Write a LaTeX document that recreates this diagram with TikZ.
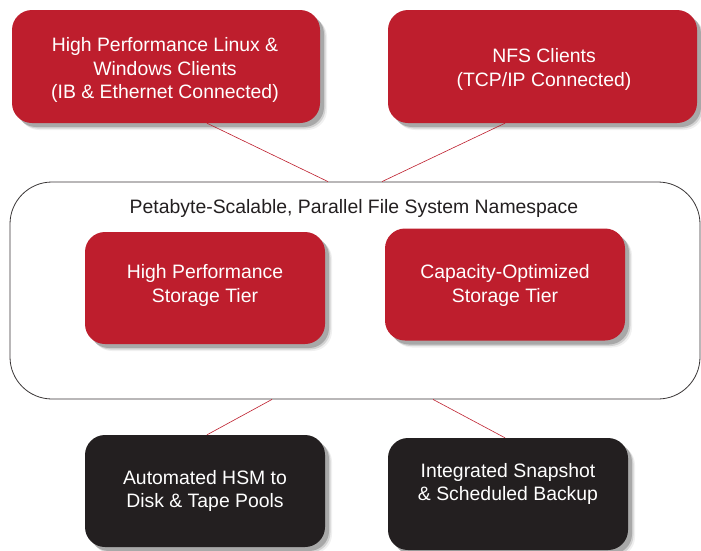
\documentclass[tikz,border=0pt]{standalone}
\usepackage{fontspec}
\setmainfont{Liberation Sans}
\usetikzlibrary{shadows}
\definecolor{dred}{HTML}{BE1E2D}
\definecolor{dblk}{HTML}{231F20}
\begin{document}
\begin{tikzpicture}[x=1pt,y=-1pt,
  box/.style={rounded corners=20pt, minimum width=240pt, minimum height=112pt, inner sep=0pt,
    general shadow={shadow xshift=7pt, shadow yshift=-7pt, fill=black, opacity=0.06},
    general shadow={shadow xshift=5.5pt, shadow yshift=-5.5pt, fill=black, opacity=0.12},
    general shadow={shadow xshift=4pt, shadow yshift=-4pt, fill=black, opacity=0.2}},
  redbox/.style={box, fill=dred},
  blkbox/.style={box, fill=dblk},
  lbl/.style={text=white, font=\fontsize{19.4}{23.5}\selectfont, align=center},
  link/.style={draw=dred, line width=0.6pt}]
\useasboundingbox[fill=white] (0,0) rectangle (701,550);

% namespace container
\node[draw=dblk!90, line width=0.8pt, rounded corners=42pt, minimum width=690pt, minimum height=217pt, inner sep=0pt] (ns) at (355,290.5) {};
\node[text=dblk, font=\fontsize{19.4}{23.5}\selectfont] (nst) at (354,208) {Petabyte-Scalable, Parallel File System Namespace};

% top clients
\node[redbox, minimum width=308pt, minimum height=113pt] (tl) at (166,66.5) {};
\node[lbl] (tlt) at (165,70) {High Performance Linux \&\\Windows Clients\\(IB \& Ethernet Connected)};
\node[redbox, minimum width=309pt, minimum height=113pt] (tr) at (542.5,66.5) {};
\node[lbl] (trt) at (544,69.5) {NFS Clients\\(TCP/IP Connected)};

% storage tiers
\node[redbox] (il) at (205,288) {};
\node[lbl] (ilt) at (205,285.5) {High Performance\\Storage Tier};
\node[redbox] (ir) at (505,284.5) {};
\node[lbl] (irt) at (505,285.5) {Capacity-Optimized\\Storage Tier};

% bottom services
\node[blkbox] (bl) at (205,491) {};
\node[lbl] (blt) at (205,491) {Automated HSM to\\Disk \& Tape Pools};
\node[blkbox] (br) at (508,494) {};
\node[lbl] (brt) at (508,484) {Integrated Snapshot\\\& Scheduled Backup};

% connectors
\draw[link] (tl.south -| 207,0) -- (ns.north -| 328,0);
\draw[link] (tr.south -| 505,0) -- (ns.north -| 382,0);
\draw[link] (ns.south -| 272,0) -- (bl.north -| 207,0);
\draw[link] (ns.south -| 433,0) -- (br.north -| 505,0);
\end{tikzpicture}
\end{document}
